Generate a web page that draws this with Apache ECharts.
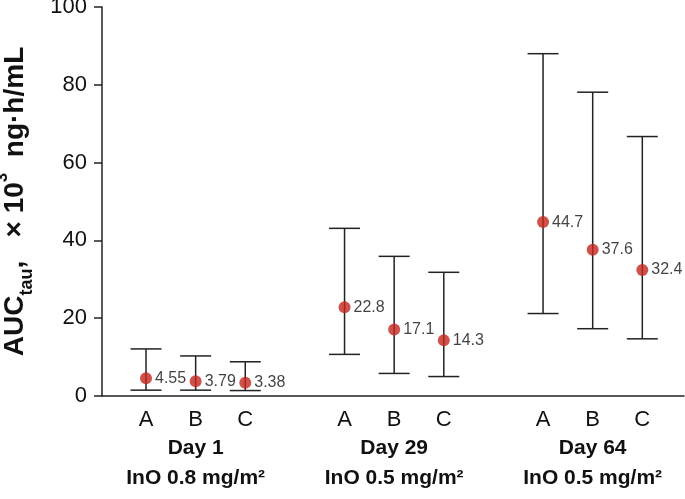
<!DOCTYPE html>
<html>
<head>
<meta charset="utf-8">
<script src="https://cdn.jsdelivr.net/npm/echarts@6/dist/echarts.min.js"></script>
<style>html,body{margin:0;padding:0;background:#fff;}#c{width:685px;height:499px;}</style>
</head>
<body>
<div id="c"></div>
<script>
const subgroups = ['A', 'B', 'C'];
const groupLabels = ['Day 1\nInO 0.8 mg/m²', 'Day 29\nInO 0.5 mg/m²', 'Day 64\nInO 0.5 mg/m²'];
const means = [4.55, 3.79, 3.38, 22.8, 17.1, 14.3, 44.7, 37.6, 32.4];
const upper = [12.1, 10.3, 8.8, 43.1, 35.9, 31.8, 88.0, 78.1, 66.7];
const lower = [1.5, 1.5, 1.4, 10.7, 5.8, 5.0, 21.2, 17.3, 14.7];
const yTicks = [0, 20, 40, 60, 80, 100];

// layout: each group occupies 3 slots plus one empty slot
const slot = (g, i) => g * 4 + i + 1;
const xs = [];
const labelMap = {};
groupLabels.forEach((gl, g) => {
  subgroups.forEach((s, i) => { xs.push(slot(g, i)); labelMap[slot(g, i)] = s; });
});
const groupCenters = groupLabels.map((gl, g) => slot(g, 1));
const groupMap = {};
groupCenters.forEach((c, g) => groupMap[c] = groupLabels[g]);

const FONT = 'Liberation Sans, Arial, Helvetica, sans-serif';
const chart = echarts.init(document.getElementById('c'));
chart.setOption({
  animation: false,
  backgroundColor: '#fff',
  grid: { left: 102, right: 1, top: 7, bottom: 103, containLabel: false, outerBoundsMode: 'none' },
  xAxis: [{
    type: 'value', min: 0.113, max: 11.84,
    axisLine: { show: true, lineStyle: { color: '#222', width: 1.5 } },
    axisTick: { show: false },
    splitLine: { show: false },
    axisLabel: {
      customValues: xs, margin: 13, fontSize: 22, color: '#111', fontFamily: FONT,
      formatter: v => labelMap[v] || ''
    }
  }, {
    type: 'value', min: 0.113, max: 11.84, position: 'bottom',
    axisLine: { show: false }, axisTick: { show: false }, splitLine: { show: false },
    axisLabel: {
      customValues: groupCenters, margin: 37, fontSize: 21, fontWeight: 'bold',
      lineHeight: 30, color: '#111', fontFamily: FONT,
      formatter: v => groupMap[v] || ''
    }
  }],
  yAxis: {
    type: 'value', min: 0, max: 100, interval: 20,
    axisLine: { show: true, lineStyle: { color: '#222', width: 1.5 } },
    axisTick: { show: true, length: 8, lineStyle: { color: '#222', width: 1.5 } },
    splitLine: { show: false },
    axisLabel: { margin: 15, fontSize: 22, color: '#111', fontFamily: FONT,
      formatter: v => yTicks.includes(v) ? String(v) : '' },
    name: '{b|AUC}{sub|tau}{b|,   × 10}{sup|3}{b|  ng·h/mL}',
    nameLocation: 'middle', nameRotate: 90, nameGap: 66,
    nameTextStyle: {
      fontFamily: FONT,
      rich: {
        b: { fontSize: 28, fontWeight: 'bold', color: '#111', lineHeight: 42, fontFamily: FONT },
        sub: { fontSize: 18, fontWeight: 'bold', color: '#111', lineHeight: 10, verticalAlign: 'bottom', fontFamily: FONT },
        sup: { fontSize: 17, fontWeight: 'bold', color: '#111', lineHeight: 28, verticalAlign: 'top', fontFamily: FONT }
      }
    }
  },
  series: [{
    type: 'custom',
    data: xs.map((x, i) => [x, lower[i], upper[i]]),
    renderItem: (params, api) => {
      const x = api.value(0);
      const lo = api.coord([x, api.value(1)]);
      const hi = api.coord([x, api.value(2)]);
      const hw = 15.5;
      const st = { stroke: '#222', lineWidth: 1.5 };
      return { type: 'group', children: [
        { type: 'line', shape: { x1: lo[0], y1: lo[1], x2: hi[0], y2: hi[1] }, style: st },
        { type: 'line', shape: { x1: lo[0] - hw, y1: lo[1], x2: lo[0] + hw, y2: lo[1] }, style: st },
        { type: 'line', shape: { x1: hi[0] - hw, y1: hi[1], x2: hi[0] + hw, y2: hi[1] }, style: st }
      ]};
    },
    z: 2
  }, {
    type: 'scatter',
    data: xs.map((x, i) => [x, means[i]]),
    symbol: 'circle', symbolSize: 12,
    itemStyle: { color: '#c4261d' },
    label: { show: true, position: 'right', distance: 3, fontSize: 16, color: '#111', fontFamily: FONT,
      formatter: p => String(means[p.dataIndex]) },
    z: 3
  }]
});
</script>
</body>
</html>
